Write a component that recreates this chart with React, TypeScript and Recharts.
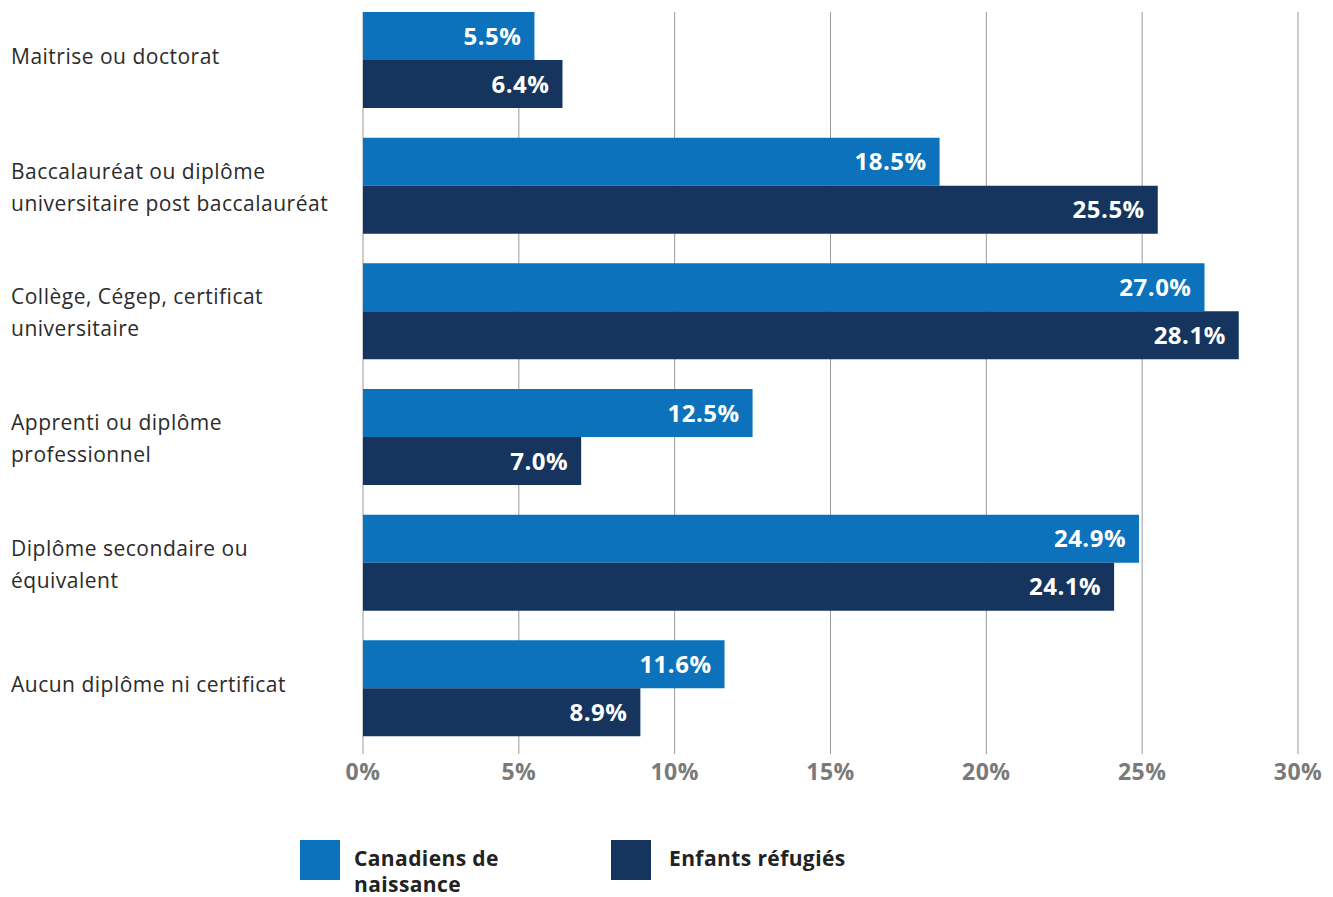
import { Bar, BarChart, CartesianGrid, LabelList, XAxis, YAxis } from "recharts";

const categories = [
  "Maitrise ou doctorat",
  "Baccalauréat ou diplôme\nuniversitaire post baccalauréat",
  "Collège, Cégep, certificat\nuniversitaire",
  "Apprenti ou diplôme\nprofessionnel",
  "Diplôme secondaire ou\néquivalent",
  "Aucun diplôme ni certificat"
];
const canadiens = [5.5, 18.5, 27.0, 12.5, 24.9, 11.6];
const refugies = [6.4, 25.5, 28.1, 7.0, 24.1, 8.9];
const xTicks = [0, 5, 10, 15, 20, 25, 30];

const lightBlue = "#0B72BB";
const navy = "#15355E";
const font = "'Open Sans', Lato, sans-serif";

const data = categories.map((name, i) => ({
  name,
  canadiens: canadiens[i],
  refugies: refugies[i]
}));

function CategoryTick({ y, payload }: any) {
  const lines = String(payload.value).split("\n");
  const lineHeight = 32;
  // single-line labels sit a little higher than the band centre in the original
  const shift = lines.length === 1 ? -4 : 1;
  const startY = y + shift - ((lines.length - 1) * lineHeight) / 2;
  return (
    <text
      x={11}
      y={startY}
      fill="#2b2b2b"
      fontSize={21}
      letterSpacing={0.5}
      fontFamily={font}
      dominantBaseline="central"
    >
      {lines.map((line, i) => (
        <tspan key={i} x={11} y={startY + i * lineHeight}>
          {line}
        </tspan>
      ))}
    </text>
  );
}

const legendItems = [
  { label: ["Canadiens de", "naissance"], color: lightBlue, left: 300, textLeft: 354 },
  { label: ["Enfants réfugiés"], color: navy, left: 611, textLeft: 669 }
];

const valueLabel = {
  position: "insideRight" as const,
  offset: 13,
  fill: "#ffffff",
  fontSize: 24,
  fontWeight: 700,
  letterSpacing: 0.5,
  fontFamily: font,
  formatter: (v: any) => `${Number(v).toFixed(1)}%`
};

export default function App() {
  return (
    <div style={{ position: "absolute", left: 0, top: 0, width: 1333, height: 897, fontFamily: font }}>
      <BarChart
        width={1333}
        height={897}
        data={data}
        layout="vertical"
        margin={{ top: -3, right: 35, left: 0, bottom: 116 }}
        barCategoryGap={15}
        barGap={0}
      >
        <CartesianGrid vertical horizontal={false} stroke="#9a9a9a" strokeWidth={1} y={12} height={742} />
        <XAxis
          type="number"
          domain={[0, 30]}
          ticks={xTicks}
          axisLine={false}
          tickLine={false}
          tickMargin={7}
          height={30}
          tickFormatter={(v) => `${v}%`}
          tick={{ fill: "#7a7a7a", fontSize: 23, fontWeight: 700, letterSpacing: 0.5, fontFamily: font }}
          interval={0}
        />
        <YAxis
          type="category"
          dataKey="name"
          width={363}
          axisLine={false}
          tickLine={false}
          tick={<CategoryTick />}
          interval={0}
        />
        <Bar dataKey="canadiens" fill={lightBlue} isAnimationActive={false}>
          <LabelList dataKey="canadiens" {...valueLabel} />
        </Bar>
        <Bar dataKey="refugies" fill={navy} isAnimationActive={false}>
          <LabelList dataKey="refugies" {...valueLabel} />
        </Bar>
      </BarChart>
      {legendItems.map((item) => (
        <div key={item.left}>
          <div
            style={{ position: "absolute", left: item.left, top: 840, width: 40, height: 40, background: item.color }}
          />
          <div
            style={{
              position: "absolute",
              left: item.textLeft,
              top: 845,
              fontSize: 21,
              fontWeight: 700,
              letterSpacing: 0.4,
              lineHeight: "26px",
              color: "#222",
              whiteSpace: "nowrap"
            }}
          >
            {item.label.map((l) => (
              <div key={l}>{l}</div>
            ))}
          </div>
        </div>
      ))}
    </div>
  );
}
